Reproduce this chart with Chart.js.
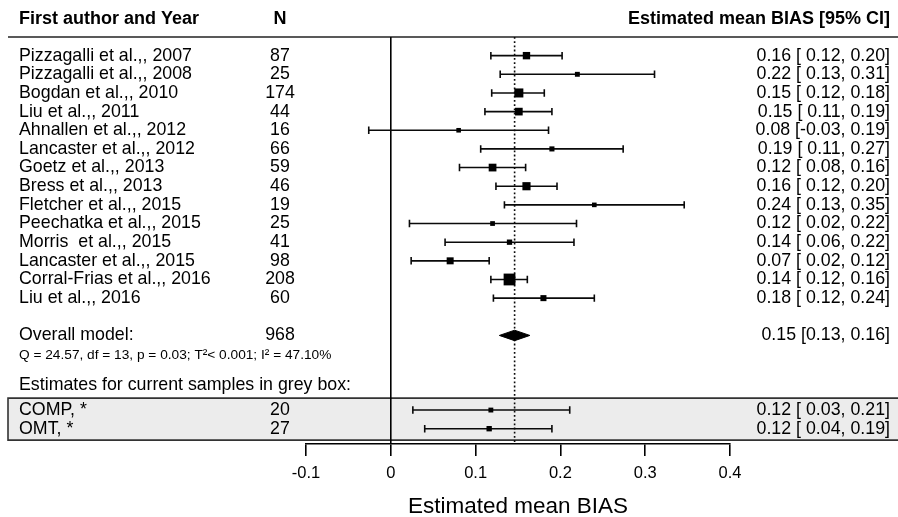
<!DOCTYPE html>
<html>
<head>
<meta charset="utf-8">
<script src="https://cdn.jsdelivr.net/npm/chart.js@4.4.1/dist/chart.umd.min.js"></script>
<style>
html,body{margin:0;padding:0;background:#fff;}
#wrap{width:898px;height:517px;}
</style>
</head>
<body>
<div id="wrap"><canvas id="forest" width="898" height="517"></canvas></div>
<script>
// ---------- data ----------
const studies = [
    "Pizzagalli et al.,, 2007", "Pizzagalli et al.,, 2008", "Bogdan et al.,, 2010",
    "Liu et al.,, 2011", "Ahnallen et al.,, 2012", "Lancaster et al.,, 2012",
    "Goetz et al.,, 2013", "Bress et al.,, 2013", "Fletcher et al.,, 2015",
    "Peechatka et al.,, 2015", "Morris  et al.,, 2015", "Lancaster et al.,, 2015",
    "Corral-Frias et al.,, 2016", "Liu et al.,, 2016"
];
const nSize = [87, 25, 174, 44, 16, 66, 59, 46, 19, 25, 41, 98, 208, 60];
const est   = [0.160, 0.220, 0.151, 0.151, 0.080, 0.190, 0.120, 0.160, 0.240, 0.120, 0.140, 0.070, 0.140, 0.180];
const lower = [0.118, 0.129, 0.119, 0.111, -0.026, 0.106, 0.081, 0.124, 0.134, 0.022, 0.064, 0.024, 0.118, 0.121];
const upper = [0.202, 0.311, 0.181, 0.190, 0.186, 0.274, 0.159, 0.196, 0.346, 0.219, 0.216, 0.116, 0.161, 0.240];

// pooled model
const pooledLabel = "Overall model:";
const pooledN = 968;
const pooled = [0.146, 0.128, 0.164];   // estimate, lower, upper
const hetText = "Q = 24.57, df = 13, p = 0.03; T\u00B2< 0.001; I\u00B2 = 47.10%";

// current samples (grey box)
const sampleNote = "Estimates for current samples in grey box:";
const samples = ["COMP, *", "OMT, *"];
const sampleN = [20, 27];
const sampleEst = [0.118, 0.116];
const sampleLo  = [0.026, 0.040];
const sampleHi  = [0.211, 0.190];

const xTicks = [-0.1, 0, 0.1, 0.2, 0.3, 0.4];

// ---------- layout rows ----------
const FONT = '"Liberation Sans", Arial, Helvetica, sans-serif';
const studyRows = studies.map((s, i) => i + 1);
const pooledRow = 16;
const hetRow = 17.05;
const noteRow = 18.65;
const sampleRows = [20, 21];

// box size from precision, like metafor
const prec = lower.map((l, i) => 1 / (upper[i] - l));
const pMin = Math.min(...prec), pMax = Math.max(...prec);
function side(lo, hi){
    const w = 1 / (hi - lo);
    return 4.6 + 7.2 * Math.max(0, (w - pMin) / (pMax - pMin));
}

const allEst = est.concat(sampleEst);
const allLo = lower.concat(sampleLo);
const allHi = upper.concat(sampleHi);
const allRows = studyRows.concat(sampleRows);

const INK = "#0a0a0a";
const capH = 0.2;   // half cap height in rows

// whisker + end caps, one dataset per segment
const ciSets = [];
allRows.forEach((r, i) => {
    const segs = [
        [{x: allLo[i], y: r}, {x: allHi[i], y: r}],
        [{x: allLo[i], y: r - capH}, {x: allLo[i], y: r + capH}],
        [{x: allHi[i], y: r - capH}, {x: allHi[i], y: r + capH}]
    ];
    segs.forEach(d => ciSets.push({
        type: "line",
        data: d,
        borderColor: INK,
        borderWidth: 1.6,
        pointRadius: 0,
        order: 3
    }));
});

const boxData = allRows.map((r, i) => ({x: allEst[i], y: r}));
const boxRadius = allRows.map((r, i) => side(allLo[i], allHi[i]) / Math.SQRT2);

const dh = 0.28;
const diamond = [
    {x: pooled[1], y: pooledRow},
    {x: pooled[0], y: pooledRow - dh},
    {x: pooled[2], y: pooledRow},
    {x: pooled[0], y: pooledRow + dh},
    {x: pooled[1], y: pooledRow}
];

const YMAX = 21.82;

function fmt(v){ return (v < 0 ? "" : " ") + v.toFixed(2); }

// ---------- background + text ----------
const forestText = {
    id: "forestText",
    beforeDraw(chart){
        const ctx = chart.ctx, y = chart.scales.y;
        const top = y.getPixelForValue(19.36), bot = y.getPixelForValue(21.61);
        ctx.save();
        ctx.fillStyle = "#ececec";
        ctx.fillRect(8, top, 898 - 8, bot - top);
        ctx.strokeStyle = "#333";
        ctx.lineWidth = 1.6;
        ctx.beginPath();
        ctx.moveTo(898, top); ctx.lineTo(8, top); ctx.lineTo(8, bot); ctx.lineTo(898, bot);
        ctx.stroke();
        // header rule
        ctx.strokeStyle = "#222";
        ctx.beginPath();
        ctx.moveTo(8, chart.chartArea.top); ctx.lineTo(898, chart.chartArea.top);
        ctx.stroke();
        ctx.restore();
    },
    afterDraw(chart){
        const ctx = chart.ctx, y = chart.scales.y;
        const xl = 19, xn = 280, xr = 890;
        ctx.save();
        ctx.fillStyle = "#000";
        ctx.textBaseline = "middle";

        // headers
        ctx.font = "bold 18px " + FONT;
        const hy = y.getPixelForValue(-0.95);
        ctx.textAlign = "left";   ctx.fillText("First author and Year", xl, hy);
        ctx.textAlign = "center"; ctx.fillText("N", xn, hy);
        ctx.textAlign = "right";  ctx.fillText("Estimated mean BIAS [95% CI]", xr, hy);

        ctx.font = "17.8px " + FONT;
        studies.forEach((s, i) => {
            const py = y.getPixelForValue(studyRows[i]);
            ctx.textAlign = "left";   ctx.fillText(s, xl, py);
            ctx.textAlign = "center"; ctx.fillText(String(nSize[i]), xn, py);
            ctx.textAlign = "right";
            ctx.fillText(est[i].toFixed(2) + " [" + fmt(lower[i]) + "," + fmt(upper[i]) + "]", xr, py);
        });

        let py = y.getPixelForValue(pooledRow);
        ctx.textAlign = "left";   ctx.fillText(pooledLabel, xl, py);
        ctx.textAlign = "center"; ctx.fillText(String(pooledN), xn, py);
        ctx.textAlign = "right";
        ctx.fillText(pooled[0].toFixed(2) + " [" + pooled[1].toFixed(2) + ", " + pooled[2].toFixed(2) + "]", xr, py);

        ctx.textAlign = "left";
        ctx.fillText(sampleNote, xl, y.getPixelForValue(noteRow));

        samples.forEach((s, i) => {
            const sy = y.getPixelForValue(sampleRows[i]);
            ctx.textAlign = "left";   ctx.fillText(s, xl, sy);
            ctx.textAlign = "center"; ctx.fillText(String(sampleN[i]), xn, sy);
            ctx.textAlign = "right";
            ctx.fillText(sampleEst[i].toFixed(2) + " [" + fmt(sampleLo[i]) + "," + fmt(sampleHi[i]) + "]", xr, sy);
        });

        ctx.font = "13.7px " + FONT;
        ctx.textAlign = "left";
        ctx.fillText(hetText, xl, y.getPixelForValue(hetRow));
        ctx.restore();
    }
};

// ---------- chart ----------
new Chart(document.getElementById("forest"), {
    type: "scatter",
    data: {
        datasets: [
            {
                data: boxData,
                pointStyle: "rect",
                pointRadius: c => boxRadius[c.dataIndex],
                pointBackgroundColor: "#000",
                backgroundColor: "#000",
                pointBorderWidth: 0,
                borderWidth: 0,
                order: 0
            },
            {
                type: "line",
                data: diamond,
                borderColor: "#000",
                backgroundColor: "#000",
                borderWidth: 1,
                fill: "shape",
                pointRadius: 0,
                order: 1
            },
            {
                type: "line",
                data: [{x: pooled[0], y: 0}, {x: pooled[0], y: YMAX}],
                borderColor: INK,
                borderWidth: 1.6,
                borderDash: [1.8, 2.4],
                pointRadius: 0,
                order: 4
            }
        ].concat(ciSets)
    },
    options: {
        responsive: false,
        animation: false,
        devicePixelRatio: 1,
        layout: {padding: {left: 306, right: 168, top: 37, bottom: 0}},
        plugins: {legend: {display: false}, tooltip: {enabled: false}},
        scales: {
            x: {
                type: "linear",
                min: -0.1,
                max: 0.4,
                afterBuildTicks: s => { s.ticks = xTicks.map(v => ({value: v})); },
                afterFit: s => { s.height = 73; },
                grid: {
                    color: c => (c.tick && c.tick.value === 0) ? "#000" : "rgba(0,0,0,0)",
                    lineWidth: 1.6,
                    tickColor: "#000",
                    tickLength: 12,
                    drawOnChartArea: true,
                    drawTicks: true
                },
                border: {display: true, color: "#000", width: 1.6},
                ticks: {
                    color: "#000",
                    padding: 8,
                    font: {family: FONT, size: 16.5},
                    callback: v => String(v)
                },
                title: {
                    display: true,
                    text: "Estimated mean BIAS",
                    color: "#000",
                    font: {family: FONT, size: 22.5, lineHeight: 0.88},
                    padding: {top: 0, bottom: 0}
                }
            },
            y: {type: "linear", reverse: true, min: 0, max: YMAX, display: false}
        }
    },
    plugins: [forestText]
});
</script>
</body>
</html>
